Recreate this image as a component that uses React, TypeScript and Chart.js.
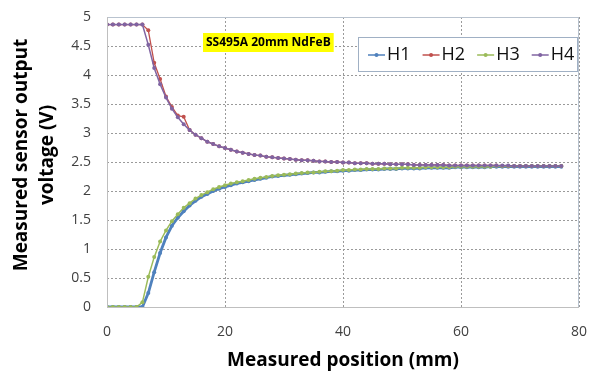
import React, { useEffect, useRef } from "react";
import { Chart, registerables } from "chart.js";

Chart.register(...registerables);

// Position of the sensor, mm (1 mm steps)
const positions: number[] = Array.from({ length: 78 }, (_, i) => i);

// Hall sensor output voltages (V) for each position
const h1: number[] = [
  0, 0, 0, 0, 0, 0, 0, 0.24, 0.6, 0.93,
  1.2, 1.4, 1.54, 1.65, 1.75, 1.83, 1.9, 1.95, 2.0, 2.04,
  2.07, 2.1, 2.13, 2.15, 2.17, 2.19, 2.21, 2.23, 2.25, 2.26,
  2.27, 2.28, 2.29, 2.3, 2.31, 2.32, 2.32, 2.33, 2.34, 2.34,
  2.35, 2.35, 2.36, 2.36, 2.37, 2.37, 2.37, 2.38, 2.38, 2.38,
  2.39, 2.39, 2.39, 2.39, 2.4, 2.4, 2.4, 2.4, 2.4, 2.41,
  2.41, 2.41, 2.41, 2.41, 2.41, 2.42, 2.42, 2.42, 2.42, 2.42,
  2.42, 2.42, 2.42, 2.42, 2.42, 2.42, 2.42, 2.42,
];

const h2: number[] = [
  4.87, 4.87, 4.87, 4.87, 4.87, 4.87, 4.87, 4.77, 4.21, 3.93,
  3.63, 3.45, 3.3, 3.28, 3.05, 2.97, 2.91, 2.85, 2.81, 2.77,
  2.74, 2.71, 2.68, 2.66, 2.64, 2.62, 2.61, 2.59, 2.58, 2.57,
  2.56, 2.55, 2.54, 2.53, 2.53, 2.52, 2.51, 2.51, 2.5, 2.5,
  2.49, 2.49, 2.48, 2.48, 2.48, 2.47, 2.47, 2.47, 2.46, 2.46,
  2.46, 2.46, 2.45, 2.45, 2.45, 2.45, 2.45, 2.45, 2.44, 2.44,
  2.44, 2.44, 2.44, 2.44, 2.44, 2.44, 2.44, 2.43, 2.43, 2.43,
  2.43, 2.43, 2.43, 2.43, 2.43, 2.43, 2.43, 2.43,
];

const h3: number[] = [
  0, 0, 0, 0, 0, 0, 0.08, 0.52, 0.86, 1.13,
  1.32, 1.48, 1.6, 1.71, 1.79, 1.87, 1.93, 1.98, 2.03, 2.07,
  2.1, 2.13, 2.15, 2.17, 2.19, 2.21, 2.23, 2.24, 2.26, 2.27,
  2.28, 2.29, 2.3, 2.31, 2.32, 2.32, 2.33, 2.34, 2.34, 2.35,
  2.36, 2.36, 2.37, 2.37, 2.38, 2.38, 2.38, 2.39, 2.39, 2.39,
  2.4, 2.4, 2.4, 2.4, 2.41, 2.41, 2.41, 2.41, 2.41, 2.42,
  2.42, 2.42, 2.42, 2.42, 2.42, 2.42, 2.43, 2.43, 2.43, 2.43,
  2.43, 2.43, 2.43, 2.43, 2.43, 2.43, 2.43, 2.43,
];

const h4: number[] = [
  4.87, 4.87, 4.87, 4.87, 4.87, 4.87, 4.87, 4.52, 4.12, 3.84,
  3.61, 3.42, 3.27, 3.15, 3.05, 2.97, 2.91, 2.85, 2.81, 2.77,
  2.74, 2.71, 2.68, 2.66, 2.64, 2.62, 2.61, 2.59, 2.58, 2.57,
  2.56, 2.55, 2.54, 2.53, 2.53, 2.52, 2.51, 2.51, 2.5, 2.5,
  2.49, 2.49, 2.48, 2.48, 2.48, 2.47, 2.47, 2.47, 2.46, 2.46,
  2.46, 2.46, 2.45, 2.45, 2.45, 2.45, 2.45, 2.45, 2.44, 2.44,
  2.44, 2.44, 2.44, 2.44, 2.44, 2.44, 2.44, 2.44, 2.44, 2.43,
  2.43, 2.43, 2.43, 2.43, 2.43, 2.43, 2.43, 2.43,
];

const seriesNames: string[] = ["H1", "H2", "H3", "H4"];
const seriesColors: string[] = ["#4F81BD", "#C0504D", "#9BBB59", "#8064A2"];
const seriesWidths: number[] = [2.8, 1.3, 1.5, 1.5];
const annotationText = "SS495A 20mm NdFeB";
const xTitle = "Measured position (mm)";
const yTitleLines: string[] = ["Measured sensor output", "voltage (V)"];

const FONT = "'Open Sans', 'DejaVu Sans', sans-serif";

// Dotted grid lines at every tick, painted beneath the series
const dottedGrid = {
  id: "dottedGrid",
  beforeDatasetsDraw(chart: any) {
    const { ctx, chartArea, scales } = chart;
    const { left, right, top, bottom } = chartArea;
    ctx.save();
    ctx.strokeStyle = "#9A9A9A";
    ctx.lineWidth = 1;
    ctx.setLineDash([2, 2]);
    scales.y.ticks.forEach((t: any) => {
      const y = Math.round(scales.y.getPixelForValue(t.value)) + 0.5;
      ctx.beginPath();
      ctx.moveTo(left, y);
      ctx.lineTo(right, y);
      ctx.stroke();
    });
    scales.x.ticks.forEach((t: any) => {
      const x = Math.round(scales.x.getPixelForValue(t.value)) + 0.5;
      ctx.beginPath();
      ctx.moveTo(x, top);
      ctx.lineTo(x, bottom);
      ctx.stroke();
    });
    ctx.restore();
  },
};

// Frame, label box, legend and axis titles drawn on top of the plot
const decorations = {
  id: "decorations",
  afterDraw(chart: any) {
    const { ctx, chartArea } = chart;
    const { left, right, top, bottom } = chartArea;
    ctx.save();

    // plot frame
    ctx.strokeStyle = "#B9C3CF";
    ctx.lineWidth = 1;
    ctx.strokeRect(left + 0.5, top + 0.5, right - left - 1, bottom - top);
    ctx.strokeStyle = "#BFBFBF";
    ctx.beginPath();
    ctx.moveTo(left + 0.5, top);
    ctx.lineTo(left + 0.5, bottom + 0.5);
    ctx.lineTo(right, bottom + 0.5);
    ctx.stroke();

    // magnet label
    ctx.font = `bold 12px ${FONT}`;
    const tw = ctx.measureText(annotationText).width;
    const ax = 203;
    const ay = 33;
    ctx.fillStyle = "#FFFF00";
    ctx.fillRect(ax, ay, tw + 6, 19);
    ctx.fillStyle = "#000000";
    ctx.textBaseline = "middle";
    ctx.textAlign = "left";
    ctx.fillText(annotationText, ax + 3, ay + 10);

    // legend
    const lx = 358;
    const ly = 37;
    const lw = 219;
    const lh = 34;
    ctx.fillStyle = "#FFFFFF";
    ctx.fillRect(lx, ly, lw, lh);
    ctx.strokeStyle = "#A0B0C4";
    ctx.strokeRect(lx + 0.5, ly + 0.5, lw, lh);
    ctx.font = `18px ${FONT}`;
    let cx = 368;
    const cy = ly + lh / 2 + 1;
    seriesNames.forEach((name, i) => {
      ctx.strokeStyle = seriesColors[i];
      ctx.lineWidth = 1.5;
      ctx.beginPath();
      ctx.moveTo(cx, cy);
      ctx.lineTo(cx + 17, cy);
      ctx.stroke();
      ctx.fillStyle = seriesColors[i];
      ctx.beginPath();
      ctx.arc(cx + 8.5, cy, 2, 0, Math.PI * 2);
      ctx.fill();
      ctx.fillStyle = "#111111";
      ctx.fillText(name, cx + 19, cy);
      cx += 19 + ctx.measureText(name).width + 12;
    });

    // axis titles
    ctx.fillStyle = "#000000";
    ctx.font = `bold 19px ${FONT}`;
    ctx.textAlign = "center";
    ctx.fillText(xTitle, (left + right) / 2, 361);

    ctx.save();
    ctx.translate(22, 155);
    ctx.rotate(-Math.PI / 2);
    ctx.fillText(yTitleLines[0], 0, 0);
    ctx.restore();
    ctx.save();
    ctx.translate(48, 155);
    ctx.rotate(-Math.PI / 2);
    ctx.fillText(yTitleLines[1], 0, 0);
    ctx.restore();

    ctx.restore();
  },
};

export default function App() {
  const canvasRef = useRef<HTMLCanvasElement | null>(null);

  useEffect(() => {
    document.body.style.margin = "0";
    const canvas = canvasRef.current;
    if (!canvas) return;

    const all = [h1, h2, h3, h4];
    const datasets = all.map((vals, i) => ({
      label: seriesNames[i],
      data: positions.map((x, j) => ({ x, y: vals[j] })),
      borderColor: seriesColors[i],
      backgroundColor: seriesColors[i],
      borderWidth: seriesWidths[i],
      pointRadius: 2,
      pointBorderWidth: 0,
      pointHoverRadius: 2,
      tension: 0,
      order: 4 - i,
    }));

    const chart = new Chart(canvas, {
      type: "line",
      data: { datasets },
      options: {
        animation: false,
        responsive: false,
        layout: { padding: { top: 17, right: 16, left: 0, bottom: 0 }, autoPadding: false },
        plugins: {
          legend: { display: false },
          tooltip: { enabled: false },
        },
        scales: {
          x: {
            type: "linear",
            min: 0,
            max: 80,
            ticks: {
              stepSize: 20,
              padding: 17,
              color: "#404040",
              font: { family: FONT, size: 14 },
              callback: (v: any) => String(v),
            },
            grid: { display: false, drawTicks: false },
            border: { display: false },
            afterFit: (scale: any) => {
              scale.height = 71;
              scale.paddingLeft = 0;
              scale.paddingRight = 0;
            },
          },
          y: {
            min: 0,
            max: 5,
            ticks: {
              stepSize: 0.5,
              padding: 16,
              color: "#404040",
              font: { family: FONT, size: 14 },
              callback: (v: any) => String(Math.round(v * 10) / 10),
            },
            grid: { display: false, drawTicks: false },
            border: { display: false },
            afterFit: (scale: any) => {
              scale.width = 107;
              scale.paddingTop = 0;
              scale.paddingBottom = 0;
            },
          },
        },
      },
      plugins: [dottedGrid, decorations],
    });

    return () => chart.destroy();
  }, []);

  return (
    <div style={{ width: 595, height: 378 }}>
      <canvas ref={canvasRef} width={595} height={378} />
    </div>
  );
}
